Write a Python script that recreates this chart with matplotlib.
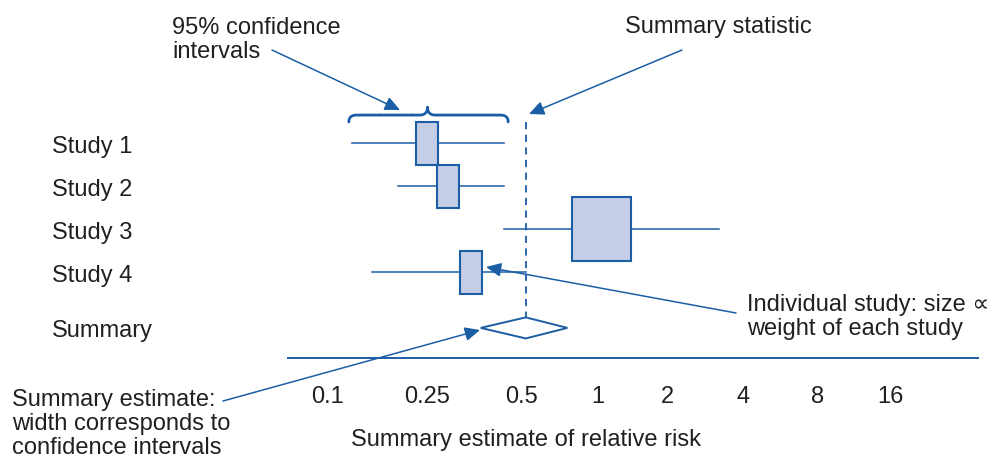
import numpy as np
import matplotlib
matplotlib.use("Agg")
import matplotlib.pyplot as plt
from matplotlib.patches import Rectangle, Polygon
from matplotlib.ticker import NullLocator

W, H = 997, 459
BLUE = "#1b5ea6"
FILL = "#c6cde6"
INK = "#231f20"

plt.rcParams["font.family"] = ["Liberation Sans", "DejaVu Sans"]
plt.rcParams["font.size"] = 17

# ---------------------------------------------------------------------------
# Data: relative risk with 95% CI for each study, plus pooled estimate
# ---------------------------------------------------------------------------
studies = ["Study 1", "Study 2", "Study 3", "Study 4"]
estimate = [0.25, 0.29, 1.04, 0.345]
ci_low = [0.125, 0.19, 0.44, 0.15]
ci_high = [0.44, 0.44, 3.2, 0.52]
weight = [1, 1, 4, 1]

summary_est = 0.52
summary_low = 0.37
summary_high = 0.76

tick_values = [0.1, 0.25, 0.5, 1, 2, 4, 8, 16]
tick_labels = ["0.1", "0.25", "0.5", "1", "2", "4", "8", "16"]

# where each labelled value sits along the (hand-drawn, uneven) axis
tick_pos = [0.0, 1.0, 1.94, 2.70, 3.40, 4.16, 4.90, 5.63]


# piecewise log scale through the labelled ticks, extrapolated at both ends
_lt = np.log(tick_values)
_tp = np.array(tick_pos)


def fwd(x):
    lx = np.log(np.clip(np.asarray(x, float), 1e-9, None))
    out = np.interp(lx, _lt, _tp)
    lo = _tp[0] + (lx - _lt[0]) * (_tp[1] - _tp[0]) / (_lt[1] - _lt[0])
    hi = _tp[-1] + (lx - _lt[-1]) * (_tp[-1] - _tp[-2]) / (_lt[-1] - _lt[-2])
    out = np.where(lx < _lt[0], lo, out)
    return np.where(lx > _lt[-1], hi, out)


def inv(s):
    s = np.asarray(s, float)
    out = np.interp(s, _tp, _lt)
    lo = _lt[0] + (s - _tp[0]) * (_lt[1] - _lt[0]) / (_tp[1] - _tp[0])
    hi = _lt[-1] + (s - _tp[-1]) * (_lt[-1] - _lt[-2]) / (_tp[-1] - _tp[-2])
    out = np.where(s < _tp[0], lo, out)
    out = np.where(s > _tp[-1], hi, out)
    return np.exp(out)


def fp(x, y):
    # figure pixels measured from the top-left corner
    return (x, H - y)


fig = plt.figure(figsize=(W / 100, H / 100), dpi=100)
ax = fig.add_axes([0, (H - 358) / H, 1, 358 / H])
ax.set_xscale("function", functions=(fwd, inv))
ax.set_xlim(inv(-3.275), inv(6.695))
ax.set_ylim(6.0, -2.326)

rows = np.arange(1, len(studies) + 1)
summary_row = 5.3

# study CIs and weight boxes (area proportional to weight)
for i, name in enumerate(studies):
    ax.plot([ci_low[i], ci_high[i]], [rows[i], rows[i]], color=BLUE, lw=1.1, zorder=2)
    bw = 0.22 * weight[i] ** 0.71
    bh = 1.0 * weight[i] ** 0.29
    c = float(fwd(estimate[i]))
    x0, x1 = float(inv(c - bw / 2)), float(inv(c + bw / 2))
    ax.add_patch(Rectangle((x0, rows[i] - bh / 2), x1 - x0, bh,
                           facecolor=FILL, edgecolor=BLUE, lw=1.5, zorder=3))
    ax.text(0.052, rows[i] + 0.23, name, transform=ax.get_yaxis_transform(),
            ha="left", va="baseline", color=INK)

ax.text(0.052, summary_row + 0.22, "Summary", transform=ax.get_yaxis_transform(),
        ha="left", va="baseline", color=INK)

# pooled estimate diamond and its dashed reference line
dh = 0.245
ax.add_patch(Polygon([(summary_low, summary_row), (summary_est, summary_row - dh),
                      (summary_high, summary_row), (summary_est, summary_row + dh)],
                     closed=True, facecolor="white", edgecolor=BLUE, lw=1.4, zorder=3))
ax.plot([summary_est, summary_est], [0.5, summary_row - dh], color=BLUE, lw=1.3,
        linestyle=(0, (4, 3)), zorder=1)


# curly brace over the confidence intervals of studies 1 and 2
def bez(p0, p1, p2, n=24):
    t = np.linspace(0, 1, n)[:, None]
    return (1 - t) ** 2 * np.array(p0) + 2 * (1 - t) * t * np.array(p1) + t ** 2 * np.array(p2)


s_l = float(fwd(min(ci_low[:2]))) - 0.03
s_r = float(fwd(max(ci_high[:2]))) + 0.04
s_p = float(fwd(estimate[0]))
r_base, r_end, r_peak = 0.35, 0.51, 0.165
curl = 0.08
brace = np.vstack([
    bez((s_l, r_end), (s_l, r_base), (s_l + curl, r_base)),
    bez((s_p - curl, r_base), (s_p, r_base), (s_p, r_peak)),
    bez((s_p, r_peak), (s_p, r_base), (s_p + curl, r_base)),
    bez((s_r - curl, r_base), (s_r, r_base), (s_r, r_end)),
])
ax.plot(inv(brace[:, 0]), brace[:, 1], color=BLUE, lw=2.0, solid_capstyle="round",
        solid_joinstyle="round", zorder=2)
for s in [0.525, 0.845, 1.175, 1.495]:
    ax.plot([inv(s), inv(s)], [r_base - 0.05, r_base], color=BLUE, lw=0.6, alpha=0.5)

# axis
for side in ["top", "left", "right"]:
    ax.spines[side].set_visible(False)
ax.spines["bottom"].set_color(BLUE)
ax.spines["bottom"].set_linewidth(1.4)
ax.spines["bottom"].set_bounds(float(inv(-0.395)), float(inv(6.505)))
ax.set_xticks(tick_values, tick_labels)
ax.xaxis.set_minor_locator(NullLocator())
ax.set_yticks([])
ax.tick_params(axis="x", length=0, pad=20, labelcolor=INK, labelsize=17)
ax.set_xlabel("Summary estimate of relative risk", color=INK, fontsize=17)
ax.xaxis.set_label_coords(526 / W, -0.198)
ax.patch.set_visible(False)

# callouts (multi-line texts are anchored on their last baseline)
arrow = dict(arrowstyle="-|>,head_length=0.65,head_width=0.3", color=BLUE, lw=1.1,
             shrinkA=0, shrinkB=0, mutation_scale=14)

fig.text(172 / W, 1 - 58 / H, "95% confidence\nintervals", ha="left", va="baseline",
         color=INK, linespacing=1.12)
ax.annotate("", xy=fp(400, 110), xycoords="figure pixels", xytext=fp(272, 50),
            textcoords="figure pixels", arrowprops=arrow, annotation_clip=False)

fig.text(625 / W, 1 - 33 / H, "Summary statistic", ha="left", va="baseline", color=INK)
ax.annotate("", xy=fp(529, 114), xycoords="figure pixels", xytext=fp(682, 50),
            textcoords="figure pixels", arrowprops=arrow, annotation_clip=False)

fig.text(747 / W, 1 - 335 / H, "Individual study: size \u221d\nweight of each study",
         ha="left", va="baseline", color=INK, linespacing=1.12)
ax.annotate("", xy=fp(486, 267), xycoords="figure pixels", xytext=fp(736, 313),
            textcoords="figure pixels", arrowprops=arrow, annotation_clip=False)

fig.text(12 / W, 1 - 454 / H, "Summary estimate:\nwidth corresponds to\nconfidence intervals",
         ha="left", va="baseline", color=INK, linespacing=1.12)
ax.annotate("", xy=fp(480, 330), xycoords="figure pixels", xytext=fp(223, 401),
            textcoords="figure pixels", arrowprops=arrow, annotation_clip=False)

fig.savefig("out.png", dpi=100)
